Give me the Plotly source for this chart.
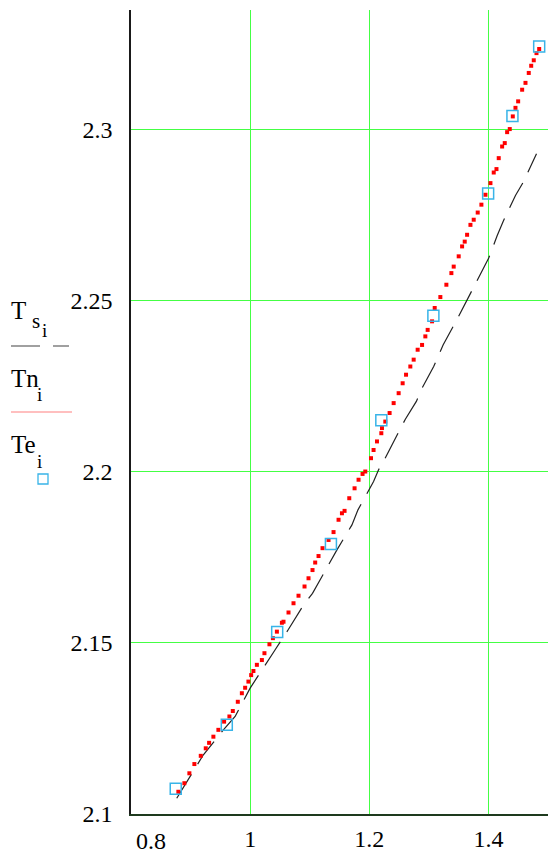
import plotly.graph_objects as go

# Tn: computed temperature curve (red dots)
tn_x = [0.8795, 0.8896, 0.8980, 0.9064, 0.9171, 0.9255, 0.9311, 0.9383, 0.9467, 0.9563,
        0.9652, 0.9709, 0.9793, 0.9861, 0.9916, 0.9971, 1.0017, 1.0055, 1.0113, 1.0197,
        1.0240, 1.0324, 1.0382, 1.0449, 1.0533, 1.0560, 1.0644, 1.0728, 1.0812, 1.0913,
        1.0980, 1.1047, 1.1092, 1.1148, 1.1215, 1.1316, 1.1400, 1.1484, 1.1541, 1.1585,
        1.1664, 1.1753, 1.1820, 1.1887, 1.1933, 1.2029, 1.2072, 1.2129, 1.2202, 1.2213,
        1.2269, 1.2341, 1.2409, 1.2493, 1.2560, 1.2617, 1.2689, 1.2745, 1.2812, 1.2886,
        1.2941, 1.2980, 1.3054, 1.3098, 1.3193, 1.3294, 1.3378, 1.3417, 1.3501, 1.3558,
        1.3602, 1.3642, 1.3698, 1.3753, 1.3820, 1.3882, 1.3950, 1.4034, 1.4089, 1.4135,
        1.4173, 1.4230, 1.4274, 1.4314, 1.4358, 1.4409, 1.4454, 1.4499, 1.4566, 1.4622,
        1.4677, 1.4718, 1.4761, 1.4807, 1.4852]
tn_y = [2.1065, 2.1090, 2.1119, 2.1146, 2.1170, 2.1192, 2.1208, 2.1226, 2.1246, 2.1270,
        2.1285, 2.1301, 2.1328, 2.1353, 2.1369, 2.1387, 2.1406, 2.1418, 2.1436, 2.1450,
        2.1470, 2.1496, 2.1514, 2.1533, 2.1559, 2.1562, 2.1589, 2.1616, 2.1638, 2.1665,
        2.1689, 2.1713, 2.1735, 2.1754, 2.1777, 2.1801, 2.1824, 2.1860, 2.1879, 2.1886,
        2.1923, 2.1952, 2.1977, 2.1994, 2.2001, 2.2040, 2.2064, 2.2089, 2.2113, 2.2128,
        2.2147, 2.2172, 2.2201, 2.2230, 2.2259, 2.2284, 2.2308, 2.2328, 2.2357, 2.2371,
        2.2396, 2.2415, 2.2440, 2.2479, 2.2511, 2.2547, 2.2581, 2.2600, 2.2630, 2.2659,
        2.2673, 2.2693, 2.2722, 2.2737, 2.2758, 2.2781, 2.2810, 2.2844, 2.2875, 2.2885,
        2.2917, 2.2951, 2.2961, 2.2993, 2.3002, 2.3039, 2.3064, 2.3083, 2.3117, 2.3137,
        2.3166, 2.3187, 2.3203, 2.3224, 2.3236]

# Ts: dashed black curve
ts_x = [0.8768, 0.9215, 0.9551, 0.9748, 1.0000, 1.0156, 1.0420, 1.0644, 1.0896, 1.1047,
        1.1306, 1.1457, 1.1709, 1.1810, 1.2072, 1.2156, 1.2257, 1.2605, 1.2790, 1.2886,
        1.3081, 1.3239, 1.3462, 1.3602, 1.3820, 1.4005, 1.4146, 1.4247, 1.4454, 1.4583,
        1.4807]
ts_y = [2.1046, 2.1173, 2.1246, 2.1285, 2.1368, 2.1411, 2.1480, 2.1540, 2.1611, 2.1645,
        2.1728, 2.1772, 2.1845, 2.1889, 2.1972, 2.2006, 2.2037, 2.2154, 2.2206, 2.2245,
        2.2308, 2.2371, 2.2442, 2.2488, 2.2563, 2.2625, 2.2690, 2.2732, 2.2808, 2.2846,
        2.2930]

# Te: experimental points (blue squares)
te_x = [0.8751, 0.9608, 1.0454, 1.1356, 1.2202, 1.3076, 1.3995, 1.4403, 1.4852]
te_y = [2.1074, 2.1261, 2.1532, 2.1789, 2.2151, 2.2456, 2.2814, 2.3040, 2.3243]

x_ticks = [1, 1.2, 1.4]
x_labels = ["1", "1.2", "1.4"]
y_ticks = [2.1, 2.15, 2.2, 2.25, 2.3]
y_labels = ["2.1", "2.15", "2.2", "2.25", "2.3"]

SERIF = "Liberation Serif, Times New Roman, serif"
GRID = "#44ff44"

fig = go.Figure()
fig.add_trace(go.Scatter(x=ts_x, y=ts_y, mode="lines",
                         line=dict(color="#222222", width=1.2, dash="28px,12px")))
fig.add_trace(go.Scatter(x=tn_x, y=tn_y, mode="markers",
                         marker=dict(symbol="square", size=4, color="#ff0000",
                                     line=dict(width=0))))
fig.add_trace(go.Scatter(x=te_x, y=te_y, mode="markers", cliponaxis=False,
                         marker=dict(symbol="square-open", size=11, color="#38b4e8",
                                     line=dict(width=1.5, color="#38b4e8"))))

# plot area: 131..548 px wide, 10..814 px tall
W, H = 417.0, 804.0


def px(x):
    return (x - 131) / W


def py(y):
    return (814 - y) / H


ann = []
def label(text, x, y, size):
    ann.append(dict(text=text, x=px(x), y=py(y), xref="paper", yref="paper",
                    xanchor="left", yanchor="middle", showarrow=False,
                    font=dict(family=SERIF, size=size, color="black")))

label("T", 9, 310, 25)
label("s", 30, 321, 21)
label("i", 40, 330, 19)
label("Tn", 9, 378, 25)
label("i", 35, 395, 19)
label("Te", 9, 444, 25)
label("i", 35, 461, 19)

# 0.8 label sits right of the axis corner
ann.append(dict(text="0.8", x=0.8, y=0, xref="x", yref="paper", xanchor="left",
                yanchor="top", yshift=-12, xshift=3, showarrow=False,
                font=dict(family=SERIF, size=24, color="black")))

shapes = [
    dict(type="line", xref="paper", yref="paper", x0=px(11), x1=px(40), y0=py(346), y1=py(346),
         line=dict(color="#808080", width=1.5)),
    dict(type="line", xref="paper", yref="paper", x0=px(53), x1=px(69), y0=py(346), y1=py(346),
         line=dict(color="#808080", width=1.5)),
    dict(type="line", xref="paper", yref="paper", x0=px(11), x1=px(72), y0=py(412), y1=py(412),
         line=dict(color="#ff8080", width=1.2)),
    dict(type="rect", xref="paper", yref="paper", x0=px(38), x1=px(48), y0=py(474), y1=py(484),
         line=dict(color="#38b4e8", width=1.3)),
]

fig.update_layout(
    width=548, height=851,
    margin=dict(l=131, r=0, t=10, b=37),
    paper_bgcolor="white", plot_bgcolor="white",
    showlegend=False,
    annotations=ann, shapes=shapes,
    xaxis=dict(range=[0.8, 1.5], tickvals=x_ticks, ticktext=x_labels,
               showgrid=True, gridcolor=GRID, gridwidth=1,
               showline=True, linecolor="#1e3a1e", linewidth=1.5,
               zeroline=False, ticks="", ticklabelstandoff=2, automargin=False,
               tickfont=dict(family=SERIF, size=24, color="black")),
    yaxis=dict(range=[2.1, 2.335], tickvals=y_ticks, ticktext=y_labels,
               showgrid=True, gridcolor=GRID, gridwidth=1,
               showline=True, linecolor="#1a1a1a", linewidth=1.5,
               zeroline=False, ticks="", ticklabelstandoff=12, automargin=False,
               tickfont=dict(family=SERIF, size=24, color="black")),
)

# the page's default body margin would push the figure 8px off the window
fig.write_html("out.html", config={"displayModeBar": False},
               post_script="document.body.style.margin='0';document.body.style.overflow='hidden';")
